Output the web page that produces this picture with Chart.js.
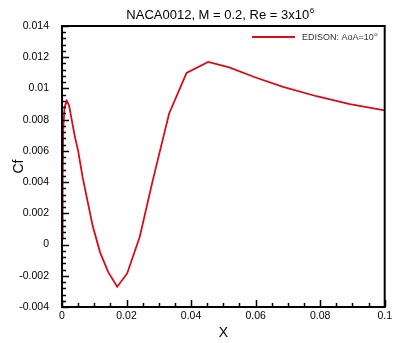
<!DOCTYPE html>
<html>
<head>
<meta charset="utf-8">
<script src="https://cdn.jsdelivr.net/npm/chart.js@4/dist/chart.umd.min.js"></script>
<style>
  html, body { margin: 0; padding: 0; background: #fff; }
  #wrap { width: 395px; height: 343px; }
</style>
</head>
<body>
<div id="wrap"><canvas id="c" width="395" height="343"></canvas></div>
<script>
// skin friction along the upper surface
var xs = [0, 0.0002, 0.0004, 0.0008, 0.0015, 0.0022, 0.003, 0.004, 0.005, 0.0064, 0.008, 0.0095,
          0.0118, 0.0143, 0.0171, 0.0202, 0.0241, 0.028, 0.0319, 0.0332, 0.0386, 0.0453, 0.0518,
          0.06, 0.0685, 0.0789, 0.0892, 0.1, 0.101];
var cf = [0.0004, 0.004, 0.0075, 0.0088, 0.0092, 0.0089, 0.008, 0.0069, 0.006, 0.0043, 0.0027, 0.0012,
          -0.0005, -0.00175, -0.0027, -0.00185, 0.0005, 0.004, 0.0073, 0.0084, 0.011, 0.0117, 0.01135,
          0.0107, 0.0101, 0.0095, 0.009, 0.0086, 0.00855];

var xTicks = [0, 0.02, 0.04, 0.06, 0.08, 0.1];
var yTicks = [-0.004, -0.002, 0, 0.002, 0.004, 0.006, 0.008, 0.01, 0.012, 0.014];

var FONT = '"Liberation Sans", Arial, sans-serif';
var red = '#dc0a14';

function fmt(v) { return String(+v.toFixed(4)); }

// frame + inward tecplot-style ticks, title, axis titles, legend
var decor = {
    id: 'decor',
    afterDraw: function (chart) {
        var ctx = chart.ctx, a = chart.chartArea;
        var sx = chart.scales.x, sy = chart.scales.y;
        ctx.save();
        ctx.strokeStyle = '#000';
        ctx.lineWidth = 1.5;
        ctx.beginPath();
        // x ticks: 3 minor between majors
        for (var i = 0; i < xTicks.length - 1; i++) {
            var step = (xTicks[i + 1] - xTicks[i]) / 4;
            for (var k = 0; k <= 4; k++) {
                var px = Math.round(sx.getPixelForValue(xTicks[i] + k * step)) + 0.5;
                var len = (k === 0 || k === 4) ? 7 : 4;
                ctx.moveTo(px, a.bottom);
                ctx.lineTo(px, a.bottom - len);
            }
        }
        // y ticks: 4 minor between majors
        for (var j = 0; j < yTicks.length - 1; j++) {
            var st = (yTicks[j + 1] - yTicks[j]) / 5;
            for (var m = 0; m <= 5; m++) {
                var py = Math.round(sy.getPixelForValue(yTicks[j] + m * st)) + 0.5;
                var l2 = (m === 0 || m === 5) ? 7 : 4;
                ctx.moveTo(a.left, py);
                ctx.lineTo(a.left + l2, py);
            }
        }
        ctx.stroke();
        ctx.lineWidth = 2;
        ctx.strokeRect(a.left, a.top, a.right - a.left, a.bottom - a.top);

        // title
        ctx.fillStyle = '#000';
        ctx.textBaseline = 'alphabetic';
        var t = 'NACA0012, M = 0.2, Re = 3x10';
        ctx.font = '13px ' + FONT;
        var tw = ctx.measureText(t).width;
        ctx.font = '8px ' + FONT;
        var sw = ctx.measureText('6').width;
        var tx = 220 - (tw + sw) / 2;
        ctx.font = '13px ' + FONT;
        ctx.textAlign = 'left';
        ctx.fillText(t, tx, 19);
        ctx.font = '8px ' + FONT;
        ctx.fillText('6', tx + tw + 0.5, 13);

        // axis titles
        ctx.font = '14px ' + FONT;
        ctx.textAlign = 'center';
        ctx.fillText('X', (a.left + a.right) / 2, 337);
        ctx.save();
        ctx.translate(23, (a.top + a.bottom) / 2);
        ctx.rotate(-Math.PI / 2);
        ctx.fillText('Cf', 0, 0);
        ctx.restore();

        // legend
        ctx.strokeStyle = red;
        ctx.lineWidth = 2;
        ctx.beginPath();
        ctx.moveTo(252, 37);
        ctx.lineTo(295, 37);
        ctx.stroke();
        ctx.fillStyle = '#333';
        ctx.textAlign = 'left';
        ctx.font = '9px ' + FONT;
        var lt = 'EDISON: AoA=10';
        ctx.fillText(lt, 302, 40);
        var lw = ctx.measureText(lt).width;
        ctx.font = '6px ' + FONT;
        ctx.fillText('o', 302 + lw + 0.5, 36);
        ctx.restore();
    }
};

new Chart(document.getElementById('c'), {
    type: 'line',
    data: {
        datasets: [{
            data: xs.map(function (x, i) { return { x: x, y: cf[i] }; }),
            borderColor: red,
            borderWidth: 1.8,
            pointRadius: 0,
            tension: 0,
            fill: false
        }]
    },
    options: {
        responsive: false,
        animation: false,
        events: [],
        layout: { padding: { top: 26, right: 7, left: 0, bottom: 0 } },
        plugins: { legend: { display: false }, title: { display: false }, tooltip: { enabled: false } },
        scales: {
            x: {
                type: 'linear',
                min: 0, max: 0.1,
                afterFit: function (s) { s.height = 36; },
                afterBuildTicks: function (s) { s.ticks = xTicks.map(function (v) { return { value: v }; }); },
                grid: { display: false, drawTicks: false },
                border: { display: false },
                ticks: {
                    color: '#000', padding: 3, maxRotation: 0,
                    font: { family: FONT, size: 10.5 },
                    callback: fmt
                }
            },
            y: {
                type: 'linear',
                min: -0.004, max: 0.014,
                afterFit: function (s) { s.width = 62; },
                afterBuildTicks: function (s) { s.ticks = yTicks.map(function (v) { return { value: v }; }); },
                grid: { display: false },
                border: { display: false },
                ticks: {
                    color: '#000', padding: 5,
                    font: { family: FONT, size: 10.5 },
                    callback: fmt
                }
            }
        }
    },
    plugins: [decor]
});
</script>
</body>
</html>
